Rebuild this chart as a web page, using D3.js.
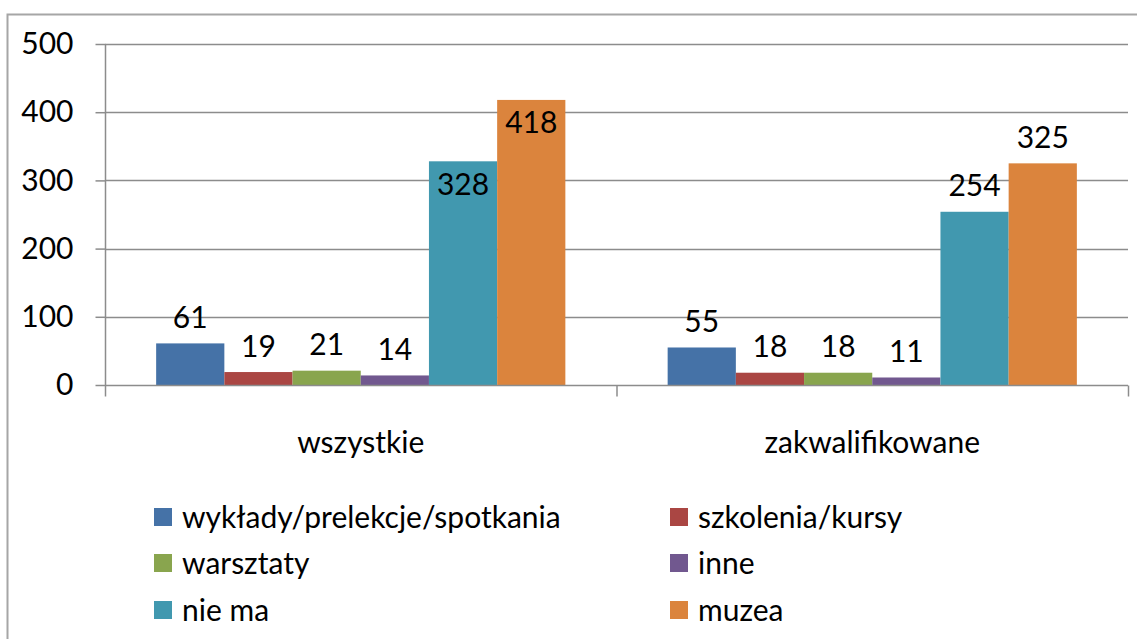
<!DOCTYPE html>
<html>
<head>
<meta charset="utf-8">
<script src="https://cdn.jsdelivr.net/npm/d3@7"></script>
<style>
  html, body { margin: 0; padding: 0; background: #fff; }
  svg text { font-family: Lato, "Open Sans", sans-serif; fill: #000; }
</style>
</head>
<body>
<svg id="chart" width="1137" height="639"></svg>
<script>
const categories = ["wszystkie", "zakwalifikowane"];
const seriesNames = ["wykłady/prelekcje/spotkania", "szkolenia/kursy", "warsztaty", "inne", "nie ma", "muzea"];
const seriesColors = ["#4572A7", "#AA4643", "#89A54E", "#71588F", "#4198AF", "#DB843D"];
const values = [
  [61, 19, 21, 14, 328, 418],
  [55, 18, 18, 11, 254, 325]
];
const yTicks = [0, 100, 200, 300, 400, 500];
// labels drawn inside the bar end (as in the original rendering)
const insideLabels = [[0, 4], [0, 5]];

const svg = d3.select("#chart");
const fontSize = 30;

const plot = { left: 105, right: 1128, top: 44, bottom: 385 };

// outer chart frame
svg.append("path")
  .attr("d", `M7.5,639 L7.5,14.5 L1137,14.5`)
  .attr("fill", "none").attr("stroke", "#a6a6a6").attr("stroke-width", 2);

const y = d3.scaleLinear().domain([0, 500]).range([plot.bottom, plot.top]);
const x0 = d3.scaleBand().domain(categories).range([plot.left, plot.right]).padding(0);
const x1 = d3.scaleBand().domain(d3.range(seriesNames.length))
  .range([x0.bandwidth() * 0.1, x0.bandwidth() * 0.9]).padding(0);

// gridlines
svg.append("g").selectAll("line").data(yTicks.filter(d => d > 0)).join("line")
  .attr("x1", plot.left).attr("x2", plot.right)
  .attr("y1", d => Math.round(y(d)) + 0.5).attr("y2", d => Math.round(y(d)) + 0.5)
  .attr("stroke", "#8c8c8c").attr("stroke-width", 1.5);

// y axis
const yAxis = svg.append("g").attr("transform", `translate(${plot.left + 0.5},0)`)
  .call(d3.axisLeft(y).tickValues(yTicks).tickSize(10).tickPadding(22));
yAxis.select(".domain").attr("stroke", "#8c8c8c").attr("stroke-width", 1.5)
  .attr("d", `M0,${plot.top}V${plot.bottom}`);
yAxis.selectAll(".tick line").attr("stroke", "#8c8c8c").attr("stroke-width", 1.5);
yAxis.selectAll(".tick text").style("font-size", fontSize + "px").attr("font-family", null);

// bars
const groups = svg.append("g").selectAll("g").data(values).join("g")
  .attr("transform", (d, i) => `translate(${x0(categories[i])},0)`);

groups.selectAll("rect").data(d => d).join("rect")
  .attr("x", (d, j) => x1(j))
  .attr("width", x1.bandwidth())
  .attr("y", d => y(d))
  .attr("height", d => y(0) - y(d))
  .attr("fill", (d, j) => seriesColors[j]);

// x axis
const xAxis = svg.append("g").attr("transform", `translate(0,${plot.bottom + 0.5})`);
xAxis.append("line").attr("x1", plot.left).attr("x2", plot.right)
  .attr("stroke", "#8c8c8c").attr("stroke-width", 1.5);
const xBoundaries = [plot.left, ...categories.map(c => x0(c) + x0.bandwidth())];
xAxis.selectAll("line.tk").data(xBoundaries).join("line").attr("class", "tk")
  .attr("x1", d => d + 0.5).attr("x2", d => d + 0.5).attr("y1", 0).attr("y2", 11)
  .attr("stroke", "#8c8c8c").attr("stroke-width", 1.5);
xAxis.selectAll("text").data(categories).join("text")
  .attr("x", d => x0(d) + x0.bandwidth() / 2)
  .attr("y", 67)
  .attr("text-anchor", "middle")
  .style("font-size", fontSize + "px")
  .text(d => d);

// data labels
const isInside = (i, j) => insideLabels.some(p => p[0] === i && p[1] === j);
groups.each(function(row, i) {
  d3.select(this).selectAll("text").data(row).join("text")
    .attr("x", (d, j) => x1(j) + x1.bandwidth() / 2)
    .attr("y", (d, j) => isInside(i, j) ? y(d) + 23 : y(d) - 26)
    .attr("dy", "0.35em")
    .attr("text-anchor", "middle")
    .style("font-size", fontSize + "px")
    .text(d => d);
});

// legend
const legendCols = [154, 670];
const legendRows = [517, 563, 610];
const legend = svg.append("g").selectAll("g").data(seriesNames).join("g")
  .attr("transform", (d, i) => `translate(${legendCols[i % 2]},${legendRows[Math.floor(i / 2)]})`);
legend.append("rect").attr("x", 0).attr("y", -9).attr("width", 18).attr("height", 18)
  .attr("fill", (d, i) => seriesColors[i]);
legend.append("text").attr("x", 28).attr("dy", "0.35em")
  .style("font-size", fontSize + "px")
  .text(d => d);
</script>
</body>
</html>
